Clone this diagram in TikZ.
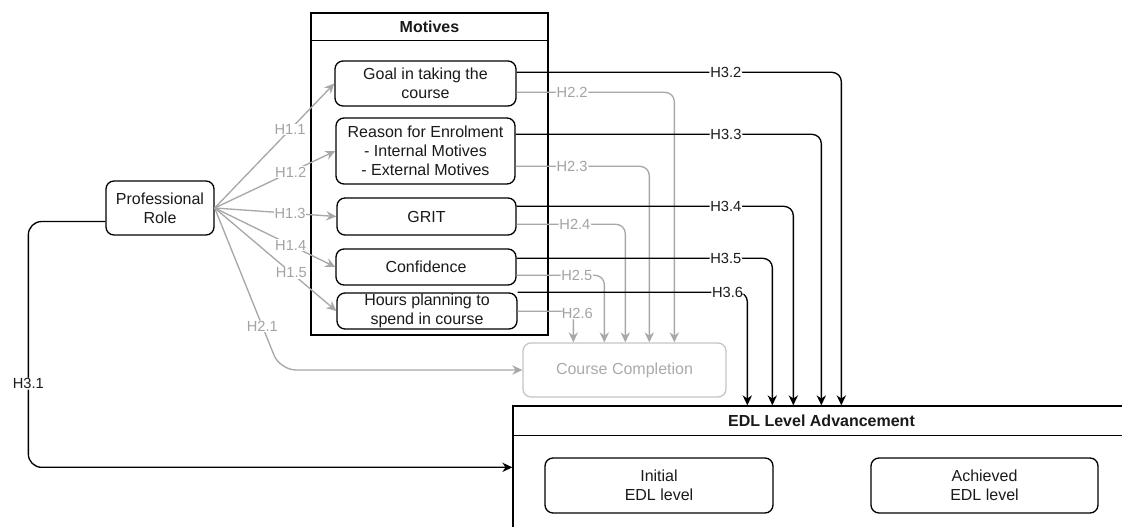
\documentclass[tikz,border=0pt]{standalone}
\usepackage{fontspec}
\setmainfont{Liberation Sans}
\usetikzlibrary{arrows.meta,calc}

\definecolor{lnGray}{HTML}{A8A8A8}
\definecolor{txGray}{HTML}{A3A3A3}
\definecolor{ccBorder}{HTML}{C6C6C6}
\definecolor{ccText}{HTML}{ABABAB}
\definecolor{inkDark}{HTML}{1A1A1A}

\begin{document}
\begin{tikzpicture}[x=0.75pt,y=-0.75pt,
  font=\fontsize{12pt}{14.25pt}\selectfont,
  box/.style={draw=black, line width=1pt, rounded corners=6pt, inner sep=0pt,
    align=center, text=inkDark},
  lane/.style={draw=black, line width=1pt, inner sep=0pt},
  blk/.style={draw=black, line width=1pt, -{Stealth[length=7.5pt,width=7pt]},
    rounded corners=7pt},
  gry/.style={draw=lnGray, line width=1pt,
    -{Stealth[length=7.5pt,width=7pt,fill=lnGray]}, rounded corners=7pt},
  lbl/.style={fill=white, inner sep=0.6pt, text=inkDark,
    font=\fontsize{11pt}{13pt}\selectfont},
  glbl/.style={lbl, text=txGray},
]
\useasboundingbox (0,0) rectangle (1122,527);
\clip (0,0) rectangle (1122,527);
\fill[white] (0,0) rectangle (1122,527);

% Motives swimlane with its five factors
\node[lane, minimum width=177.75pt, minimum height=241.5pt] (motives) at (429.5,174) {};
\draw[line width=1pt] ($(motives.north west)+(0,28)$) -- ($(motives.north east)+(0,28)$);
\node[font=\bfseries\fontsize{12pt}{14.25pt}\selectfont, text=inkDark] (motivesTitle)
  at ($(motives.north)+(0,14)$) {Motives};

\node[box, minimum width=135.75pt, minimum height=33.75pt] (goal) at (425.5,83.5)
  {Goal in taking the\\course};
\node[box, minimum width=134.25pt, minimum height=49.5pt] (reason) at (425.5,151)
  {Reason for Enrolment\\- Internal Motives\\- External Motives};
\node[box, minimum width=134.25pt, minimum height=27.75pt] (grit) at (426.5,216.5) {GRIT};
\node[box, minimum width=135pt, minimum height=27pt] (conf) at (426,267) {Confidence};
\node[box, minimum width=135pt, minimum height=27pt] (hours) at (427,311)
  {Hours planning to\\spend in course};

% Professional role
\node[box, minimum width=81pt, minimum height=40.5pt] (PR) at (160,208)
  {Professional\\Role};

% Course completion
\node[box, draw=ccBorder, text=ccText, minimum width=152.25pt, minimum height=40.5pt]
  (CC) at (624.5,370) {Course Completion};

% EDL level advancement swimlane
\node[lane, minimum width=462.75pt, minimum height=150pt] (edl) at (821.5,506) {};
\draw[line width=1pt] ($(edl.north west)+(0,30)$) -- ($(edl.north east)+(0,30)$);
\node[font=\bfseries\fontsize{12pt}{14.25pt}\selectfont, text=inkDark] (edlTitle)
  at ($(edl.north)+(0,15)$) {EDL Level Advancement};
\node[box, minimum width=171pt, minimum height=41.25pt] (initial) at (659,485.5)
  {Initial\\EDL level};
\node[box, minimum width=170.25pt, minimum height=41.25pt] (achieved) at (984.5,485.5)
  {Achieved\\EDL level};

% H1: professional role -> motives
\draw[gry, rounded corners=0pt] (PR.east) -- node[pos=0.63, glbl] {H1.1} (goal.west);
\draw[gry, rounded corners=0pt] (PR.east) -- node[pos=0.63, glbl] {H1.2} (reason.west);
\draw[gry, rounded corners=0pt] (PR.east) -- node[pos=0.62, glbl] {H1.3} (grit.west);
\draw[gry, rounded corners=0pt] (PR.east) -- node[pos=0.63, glbl] {H1.4} (conf.west);
\draw[gry, rounded corners=0pt] (PR.east) -- node[pos=0.63, glbl] {H1.5} (hours.west);

% H2: everything -> course completion
\coordinate (h21bend) at (280,370);
\draw[gry, rounded corners=12pt] (PR.east) -- node[pos=0.73, glbl] {H2.1} (h21bend) -- (CC.west);
\draw[gry] ($(goal.north east)+(0,32)$) -| node[pos=0.176, glbl] {H2.2}
  ($(CC.north west)+(152,0)$);
\draw[gry] ($(reason.north east)+(0,49)$) -| node[pos=0.211, glbl] {H2.3}
  ($(CC.north west)+(127,0)$);
\draw[gry] ($(grit.north east)+(0,27)$) -| node[pos=0.268, glbl] {H2.4}
  ($(CC.north west)+(103,0)$);
\draw[gry] ($(conf.north east)+(0,27)$) -| node[pos=0.343, glbl] {H2.5}
  ($(CC.north west)+(82,0)$);
\draw[gry] ($(hours.north east)+(0,19)$) -| node[pos=0.5, glbl, xshift=3pt, yshift=-1.5pt] {H2.6}
  ($(CC.north west)+(51,0)$);

% H3: everything -> EDL level advancement
\draw[blk, rounded corners=10pt] ($(PR.west)+(0,13.5)$) -- ++(-77,0)
  |- node[pos=0.33, lbl] {H3.1} ($(edl.north west)+(0,62)$);
\draw[blk] ($(goal.north east)+(0,12)$) -| node[pos=0.322, lbl] {H3.2}
  ($(edl.north west)+(329,0)$);
\draw[blk] ($(reason.north east)+(0,17)$) -| node[pos=0.344, lbl] {H3.3}
  ($(edl.north west)+(309,0)$);
\draw[blk] ($(grit.north east)+(0,9)$) -| node[pos=0.378, lbl] {H3.4}
  ($(edl.north west)+(281,0)$);
\draw[blk] ($(conf.north east)+(0,10)$) -| node[pos=0.409, lbl] {H3.5}
  ($(edl.north west)+(260,0)$);
\draw[blk] (hours.north east) -| node[pos=0.457, lbl] {H3.6}
  ($(edl.north west)+(235,0)$);
\end{tikzpicture}
\end{document}
